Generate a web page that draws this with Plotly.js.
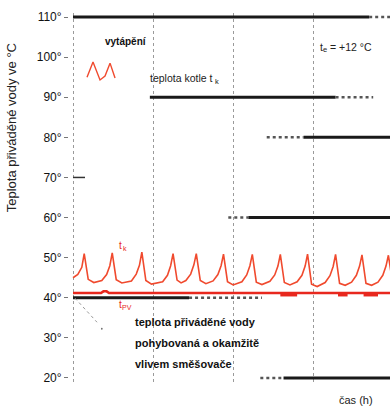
<!DOCTYPE html>
<html>
<head>
<meta charset="utf-8">
<script src="https://cdn.plot.ly/plotly-3.0.1.min.js"></script>
<style>html,body{margin:0;padding:0;background:#fff}#chart{width:390px;height:414px}</style>
</head>
<body>
<div id="chart"></div>
<script>
// y-axis ticks
const yTickVals = [20, 30, 40, 50, 60, 70, 80, 90, 100, 110];
const yTickText = ["20°", "30°", "40°", "50°", "60°", "70°", "80°", "90°", "100°", "110°"];

// boiler temperature t_k (sawtooth), time in grid units
const tkX = [0.00, 0.06, 0.11, 0.14,
  0.19, 0.26, 0.36, 0.42, 0.46, 0.49,
  0.54, 0.61, 0.73, 0.79, 0.83, 0.86,
  0.91, 0.98, 1.12, 1.18, 1.22, 1.25,
  1.30, 1.35, 1.41, 1.47, 1.51, 1.54,
  1.59, 1.66, 1.75, 1.81, 1.85, 1.88,
  1.93, 2.00, 2.11, 2.17, 2.21, 2.24,
  2.29, 2.36, 2.46, 2.52, 2.56, 2.59,
  2.64, 2.71, 2.80, 2.86, 2.90, 2.93,
  2.98, 3.05, 3.15, 3.21, 3.25, 3.28,
  3.33, 3.40, 3.48, 3.54, 3.58, 3.61,
  3.66, 3.73, 3.81, 3.87, 3.91, 3.94,
  3.99];
const tkY = [45.0, 45.8, 47.6, 51.0,
  44.6, 43.8, 44.3, 45.8, 48.0, 51.2,
  44.5, 43.7, 44.2, 45.9, 48.1, 51.4,
  44.3, 43.4, 44.0, 45.6, 48.0, 51.0,
  44.4, 43.7, 44.3, 45.9, 48.2, 51.0,
  44.3, 43.5, 44.2, 45.8, 48.0, 50.9,
  44.0, 43.2, 44.0, 45.7, 48.0, 50.8,
  43.9, 43.3, 44.1, 45.7, 47.9, 50.8,
  43.8, 43.2, 44.0, 45.6, 47.9, 50.9,
  43.4, 42.8, 43.8, 45.5, 47.8, 50.8,
  43.6, 43.1, 43.9, 45.6, 47.9, 50.7,
  43.6, 43.1, 43.9, 45.6, 47.9, 50.6,
  44.0];

// supplied water temperature t_PV
const tpvX = [0, 0.35, 0.38, 0.42, 0.45, 3.99];
const tpvY = [41.2, 41.2, 41.6, 41.6, 41.2, 41.2];
// small dips of t_PV below its line
const dipX = [2.59, 2.80, null, 3.31, 3.43, null, 3.63, 3.81];
const dipY = [40.7, 40.7, null, 40.7, 40.7, null, 40.7, 40.7];

// black level lines (heating levels)
const levelY = [110, 90, 80, 60, 40, 20];
const solidFrom = [0, 0.96, 2.88, 2.19, 0, 2.63];
const solidTo = [3.70, 3.28, 3.99, 3.99, 1.45, 3.99];
const dotFrom = [3.70, 3.28, 2.42, 1.94, 1.45, 2.34];
const dotTo = [3.99, 3.75, 2.88, 2.19, 2.36, 2.63];

// legend icon (small sawtooth next to "vytápění")
const iconX = [0.175, 0.25, 0.3375, 0.40, 0.4625, 0.525];
const iconY = [95.0, 98.8, 94.3, 95.3, 98.5, 94.8];

const traces = [];
for (let i = 0; i < levelY.length; i++) {
  traces.push({x: [solidFrom[i], solidTo[i]], y: [levelY[i], levelY[i]], mode: 'lines',
    line: {color: '#1a1a1a', width: 3}, hoverinfo: 'skip', showlegend: false});
  traces.push({x: [dotFrom[i], dotTo[i]], y: [levelY[i], levelY[i]], mode: 'lines',
    line: {color: '#555', width: 2.5, dash: 'dot'}, hoverinfo: 'skip', showlegend: false});
}
traces.push({x: tpvX, y: tpvY, mode: 'lines', line: {color: '#e8281e', width: 2.5}, showlegend: false});
traces.push({x: dipX, y: dipY, mode: 'lines', line: {color: '#e8281e', width: 3}, showlegend: false, connectgaps: false});
traces.push({x: tkX, y: tkY, mode: 'lines', line: {color: '#f04a2e', width: 1.6}, showlegend: false});
traces.push({x: iconX, y: iconY, mode: 'lines', line: {color: '#f04a2e', width: 1.4}, showlegend: false});

const fontTxt = 'Liberation Sans, Arial, sans-serif';
function ann(x, y, text, size, color, anchor, extra) {
  return Object.assign({x: x, y: y, xref: 'x', yref: 'y', text: text, showarrow: false,
    xanchor: anchor, yanchor: 'middle', font: {family: fontTxt, size: size, color: color}}, extra || {});
}
const annotations = [
  ann(0.66, 103.8, 'vytápění', 10, '#111', 'center', {font: {family: fontTxt, size: 10, color: '#111', weight: 'bold'}}),
  ann(0.94, 94.8, 'teplota kotle t', 10.5, '#222', 'left'),
  ann(1.755, 94.0, 'k', 7.5, '#222', 'left'),
  ann(3.06, 102.6, 't', 10.5, '#222', 'left'),
  ann(3.10, 101.8, 'e', 7.5, '#222', 'left'),
  ann(3.185, 102.6, '= +12 °C', 10.5, '#222', 'left'),
  ann(0.555, 53.0, 't', 10, '#e8281e', 'left'),
  ann(0.595, 52.2, 'k', 7, '#e8281e', 'left'),
  ann(0.55, 38.4, 't', 10, '#e8281e', 'left'),
  ann(0.59, 37.6, 'PV', 7, '#e8281e', 'left'),
  ann(0.75, 33.9, 'teplota přiváděné vody', 11, '#111', 'left', {font: {family: fontTxt, size: 11, color: '#111', weight: 'bold'}}),
  ann(0.75, 28.7, 'pohybovaná a okamžitě', 11, '#111', 'left', {font: {family: fontTxt, size: 11, color: '#111', weight: 'bold'}}),
  ann(0.75, 23.5, 'vlivem směšovače', 11, '#111', 'left', {font: {family: fontTxt, size: 11, color: '#111', weight: 'bold'}}),
  {x: 0.835, y: -0.07, xref: 'paper', yref: 'paper', text: 'čas (h)', showarrow: false, xanchor: 'left',
    font: {family: fontTxt, size: 11, color: '#222'}},
  {x: -0.178, y: 0.69, xref: 'paper', yref: 'paper', text: 'Teplota přiváděné vody ve °C', showarrow: false,
    textangle: -90, xanchor: 'center', yanchor: 'middle',
    font: {family: fontTxt, size: 13, color: '#222'}}
];

const shapes = [
  {type: 'line', xref: 'x', yref: 'y', x0: 0.025, y0: 39.9, x1: 0.30, y1: 33.9,
    line: {color: '#999', width: 1, dash: 'dot'}},
  {type: 'circle', xref: 'x', yref: 'y', x0: 0.35, y0: 32.0, x1: 0.37, y1: 32.5,
    fillcolor: '#666', line: {width: 0}},
  {type: 'line', xref: 'x', yref: 'y', x0: 0, y0: 70, x1: 0.15, y1: 70,
    line: {color: '#333', width: 1.5}}
];

const layout = {
  width: 390, height: 414,
  margin: {l: 69, r: 0, t: 13, b: 32, pad: 0},
  paper_bgcolor: '#fff', plot_bgcolor: '#fff',
  showlegend: false,
  xaxis: {range: [-0.05, 3.96], tickvals: [0, 1, 2, 3], showticklabels: false, ticks: '',
    showgrid: true, gridcolor: '#9a9a9a', gridwidth: 1, griddash: 'dot', zeroline: false, showline: false},
  yaxis: {range: [19, 111], tickvals: yTickVals, ticktext: yTickText, ticks: 'outside', ticklen: 4,
    tickcolor: '#777', showgrid: false, zeroline: false, showline: false,
    tickfont: {family: fontTxt, size: 12, color: '#111'}},
  annotations: annotations,
  shapes: shapes
};

Plotly.newPlot('chart', traces, layout, {displayModeBar: false});
</script>
</body>
</html>
